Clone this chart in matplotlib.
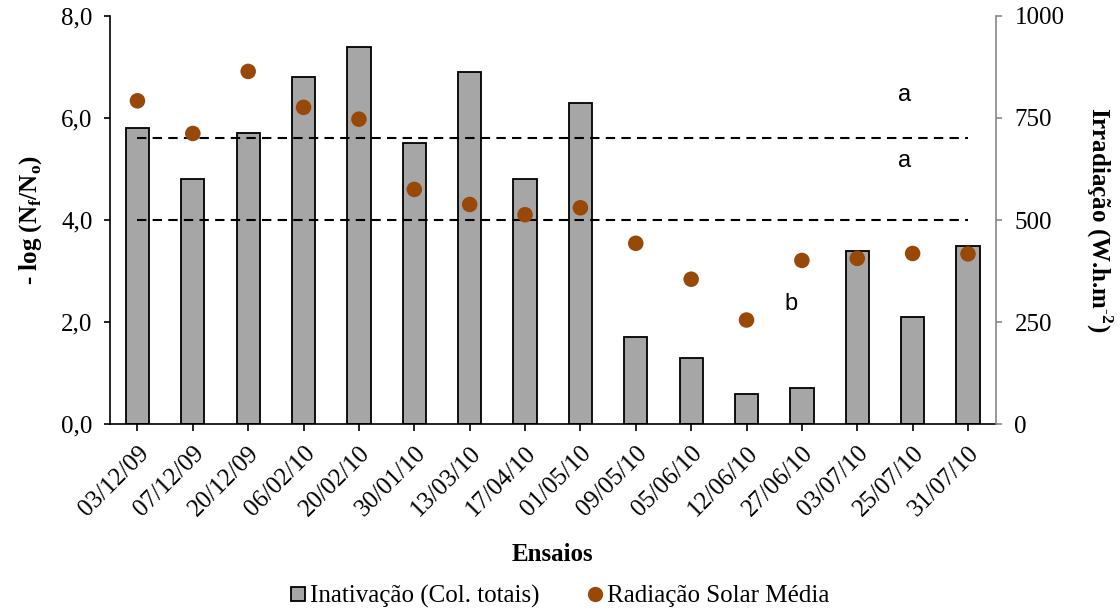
import matplotlib
matplotlib.use('Agg')
import matplotlib.pyplot as plt
from matplotlib.lines import Line2D
import numpy as np

plt.rcParams['font.family'] = ['Liberation Serif', 'DejaVu Serif']
plt.rcParams['mathtext.fontset'] = 'custom'
plt.rcParams['mathtext.rm'] = 'Liberation Serif'
plt.rcParams['mathtext.bf'] = 'Liberation Serif:bold'

ensaios = ['03/12/09', '07/12/09', '20/12/09', '06/02/10', '20/02/10', '30/01/10',
           '13/03/10', '17/04/10', '01/05/10', '09/05/10', '05/06/10', '12/06/10',
           '27/06/10', '03/07/10', '25/07/10', '31/07/10']
inativacao = [5.8, 4.8, 5.7, 6.8, 7.4, 5.5, 6.9, 4.8, 6.3, 1.7, 1.3, 0.6, 0.7, 3.4, 2.1, 3.5]
radiacao = [792, 712, 864, 776, 747, 575, 538, 513, 530, 443, 355, 255, 401, 406, 418, 417]

# group limits (left axis) and significance letters
limites = [5.6, 4.0]
letras = [('a', 13.85, 6.45), ('a', 13.85, 5.15), ('b', 11.8, 2.35)]

cinza = '#a6a6a6'
marrom = '#984807'

fig = plt.figure(figsize=(11.2, 6.12), dpi=100)
ax = fig.add_axes([0.098, 0.307, 0.791, 0.667])
ax2 = ax.twinx()

x = np.arange(len(ensaios))
ax.bar(x, inativacao, width=0.42, color=cinza, edgecolor='black', linewidth=1.3, zorder=2)
ax2.scatter(x, radiacao, s=125, color=marrom, edgecolor='none', zorder=3)

for y in limites:
    ax.plot([x[0], x[-1]], [y, y], color='black', linestyle=(0, (4.5, 3)), linewidth=1.5, zorder=4)
for txt, tx, ty in letras:
    ax.text(tx, ty, txt, fontsize=17, family='Liberation Sans', ha='center', va='center')

ax.set_xlim(-0.5, len(ensaios) - 0.5)
ax.set_ylim(0, 8)
ax.set_yticks([0, 2, 4, 6, 8])
ax.set_yticklabels(['0,0', '2,0', '4,0', '6,0', '8,0'], fontsize=18)
ax.set_xticks(x)
ax.set_xticklabels(ensaios, rotation=45, ha='right', rotation_mode='anchor', fontsize=18)
ax.tick_params(axis='y', direction='out', length=4.5, width=1.2, pad=8)
ax.tick_params(axis='x', direction='out', length=5, width=1.2, pad=8)
ax.set_ylabel(r'- log (N$_{\mathbf{f}}$/N$_{\mathbf{o}}$)', fontsize=18, fontweight='bold', labelpad=12)
ax.set_xlabel('Ensaios', fontsize=18, fontweight='bold', labelpad=16)

ax2.set_ylim(0, 1000)
ax2.set_yticks([0, 250, 500, 750, 1000])
ax2.tick_params(axis='y', direction='out', length=4.5, width=1.2, color='#888888', labelsize=18, pad=9)
ax2.set_ylabel(r'Irradiação (W.h.m$^{\text{-}\mathbf{2}}$)', fontsize=18, fontweight='bold',
               rotation=270, labelpad=36)

for a in (ax, ax2):
    a.spines['top'].set_visible(False)
ax.spines['left'].set_linewidth(1.2)
ax.spines['bottom'].set_linewidth(1.2)
ax.spines['right'].set_visible(False)
ax2.spines['left'].set_visible(False)
ax2.spines['bottom'].set_visible(False)
ax2.spines['right'].set_color('#888888')
ax2.spines['right'].set_linewidth(1.2)

# legend with square and round markers
handles = [
    Line2D([], [], linestyle='none', marker='s', markersize=9.5, markerfacecolor=cinza,
           markeredgecolor='black', markeredgewidth=1.3, label='Inativação (Col. totais)'),
    Line2D([], [], linestyle='none', marker='o', markersize=11, markerfacecolor=marrom,
           markeredgecolor='none', label='Radiação Solar Média'),
]
fig.legend(handles=handles, loc='lower center', bbox_to_anchor=(0.5, -0.03),
           ncol=2, frameon=False, fontsize=18, handlelength=0.6, handletextpad=0.2,
           columnspacing=1.9)

fig.savefig('out.png', dpi=100)
